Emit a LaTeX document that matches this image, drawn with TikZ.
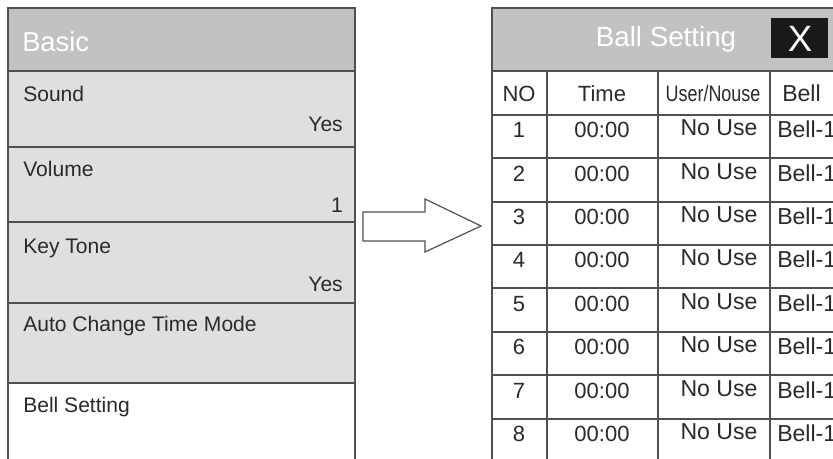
\documentclass[tikz,border=0pt]{standalone}
\usepackage{fontspec}
\setmainfont{Liberation Sans}
\begin{document}
\begin{tikzpicture}[x=0.75pt,y=-0.75pt,
  line/.style={draw=linegray,line width=1.1pt},
  lbl/.style={inner sep=0pt,text=textgray,font=\fontsize{15.8}{18}\selectfont},
  lblL/.style={lbl,anchor=base west},
  lblR/.style={lbl,anchor=base east},
  hdr/.style={inner sep=0pt,text=white,font=\fontsize{20.5}{24}\selectfont},
  cell/.style={inner sep=0pt,text=textgray,anchor=base,font=\fontsize{16.5}{19}\selectfont},
  cellB/.style={cell,font=\fontsize{17.3}{20}\selectfont}]
\definecolor{linegray}{HTML}{505050}
\definecolor{textgray}{HTML}{2A2A2A}
\definecolor{hdrgray}{HTML}{C2C2C2}
\definecolor{rowgray}{HTML}{DFDFDF}
\useasboundingbox (0,0) rectangle (833,459);
% ---------- left panel ----------
\fill[hdrgray] (8,8) rectangle (355,71);
\fill[rowgray] (8,71) rectangle (355,383);
\fill[white] (8,383) rectangle (355,462);
\draw[line] (8,462) -- (8,8) -- (355,8) -- (355,462);
\foreach \y in {71,147,222,303,383} \draw[line] (8,\y) -- (355,\y);
\node[hdr,anchor=base west] (basic) at (22,52) {Basic};
\node[lblL] (sound) at (23,102) {Sound};
\node[lblR] (soundv) at (343,132) {Yes};
\node[lblL] (vol) at (23,177) {Volume};
\node[lblR] (volv) at (343,213) {1};
\node[lblL] (key) at (23,254) {Key Tone};
\node[lblR] (keyv) at (343,292) {Yes};
\node[lblL] (auto) at (23,332) {Auto Change Time Mode};
\node[lblL] (bell) at (23,413) {Bell Setting};
% ---------- arrow ----------
\draw[line,line width=0.9pt,line join=miter,fill=white]
  (363,212) -- (425,212) -- (425,199) -- (481,226) -- (425,252) -- (425,241) -- (363,241) -- cycle;
% ---------- right panel ----------
\fill[hdrgray] (492,8) rectangle (840,71);
\fill[white] (492,71) rectangle (840,462);
\draw[line] (492,462) -- (492,8) -- (840,8);
\foreach \y in {71,115,158,202,245,288,332,375,419} \draw[line] (492,\y) -- (840,\y);
\foreach \x in {547,658,770} \draw[line] (\x,71) -- (\x,462);
\node[hdr,anchor=base,font=\fontsize{20.8}{24}\selectfont] (title) at (666,47) {Ball Setting};
\fill[black!90] (771,18) rectangle (828,58);
\node[inner sep=0pt,anchor=base,text=white,font=\fontsize{27.5}{30}\selectfont] (close) at (800,52) {X};
% header row
\node[cell] (hno) at (519,102) {NO};
\node[cell] (htime) at (602,102) {Time};
\node[cell,xscale=0.8,font=\fontsize{16.8}{19}\selectfont] (huse) at (713,102) {User/Nouse};
\node[cellB,anchor=base west] (hbell) at (782,102) {Bell};
% data rows
\foreach \n/\y in {1/138,2/182,3/225,4/268,5/312,6/355,7/399,8/442}{
  \node[cell] (no\n) at (519,\y) {\n};
  \node[cell] (time\n) at (602,\y) {00:00};
  \node[cellB] (use\n) at (719,\y-2) {No Use};
  \node[cellB,anchor=base west] (bell\n) at (777,\y) {Bell-1};
}
\end{tikzpicture}
\end{document}
